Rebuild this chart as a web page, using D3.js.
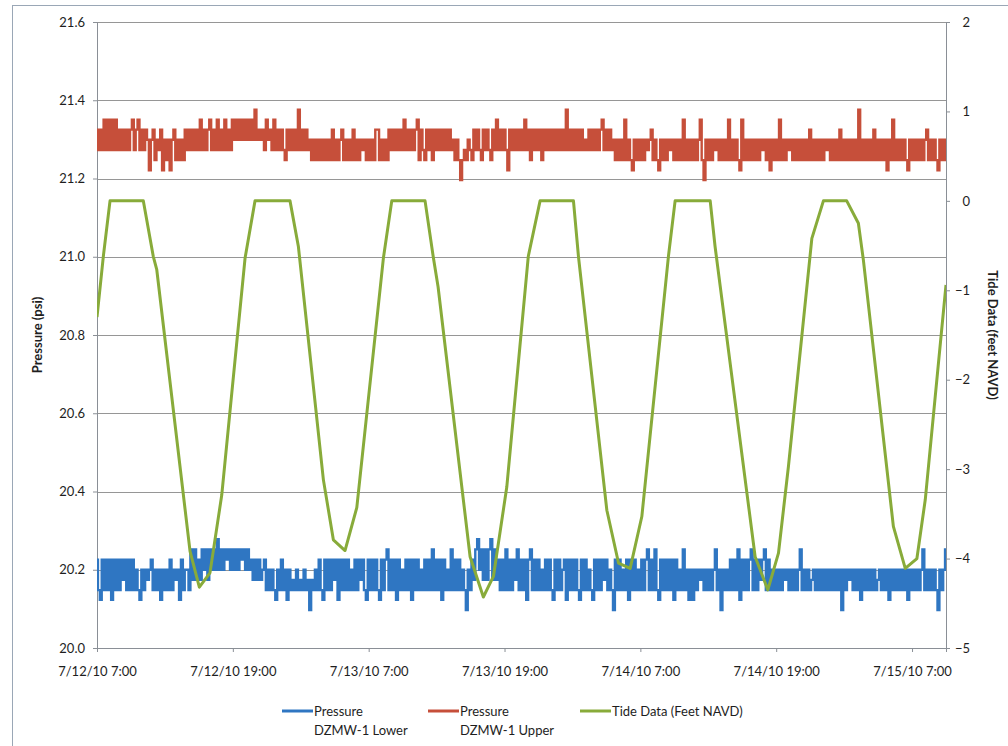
<!DOCTYPE html>
<html>
<head>
<meta charset="utf-8">
<script src="https://cdn.jsdelivr.net/npm/d3@7"></script>
<style>
  body { margin: 0; background: #fff; }
  text { font-family: Lato, "Open Sans", sans-serif; fill: #1e1e1e; }
</style>
</head>
<body>
<div id="pressure-tide-chart"></div>
<script>
// ========== Data ==========
const startTime = new Date(2010, 6, 12, 7, 0);
const endTime = new Date(2010, 6, 15, 10, 0);
const sampleMinutes = 10; // logger interval for both pressure series

const xTickLabels = [
  "2010-07-12 07:00", "2010-07-12 19:00", "2010-07-13 07:00", "2010-07-13 19:00",
  "2010-07-14 07:00", "2010-07-14 19:00", "2010-07-15 07:00",
];
const leftTicks = [20.0, 20.2, 20.4, 20.6, 20.8, 21.0, 21.2, 21.4, 21.6];
const rightTicks = [-5, -4, -3, -2, -1, 0, 1, 2];

// pressure readings are quantized; codes below index these levels (psi)
const lowerLevelPsi = [20.097, 20.123, 20.148, 20.174, 20.2, 20.226, 20.252, 20.278];
const upperLevelPsi = [21.196, 21.221, 21.247, 21.273, 21.299, 21.325, 21.35, 21.376];

// DZMW-1 Lower, one row = 2 hours of 10-minute readings
const lowerCodes = [
  5,2,1,5,2,5,2,5,1,5,2,5, 2,5,3,5,2,5,2,5,2,4,2,1, 4,2,4,3,4,5,2,4,2,4,1,4,
  2,4,2,5,2,4,3,4,1,5,2,4, 4,2,6,3,6,3,5,3,6,4,6,3, 6,4,6,4,7,4,6,4,6,5,6,4,
  6,4,6,4,6,5,6,4,6,4,5,3, 5,3,5,3,4,5,2,4,2,4,2,1, 4,2,5,2,4,1,4,2,3,2,4,2,
  3,2,4,2,3,0,3,2,4,2,5,2, 1,5,2,5,2,5,3,5,1,5,2,5, 2,5,2,4,2,5,2,5,3,5,2,1,
  5,2,5,2,5,2,1,5,2,5,6,2, 5,2,5,1,5,2,4,2,5,2,5,1, 5,2,5,2,4,2,5,2,5,2,6,2,
  5,2,5,1,5,2,4,2,6,2,5,2, 5,2,4,2,0,4,2,5,3,6,7,4, 6,3,6,3,6,7,3,6,3,5,2,5,
  2,6,2,5,2,5,3,6,2,5,2,5, 1,5,6,2,5,2,5,2,4,2,5,2, 5,2,1,5,2,5,2,4,5,1,5,2,
  5,2,5,2,1,5,2,5,2,4,2,1, 5,2,5,2,5,3,5,2,4,2,0,5, 2,5,2,4,2,5,1,5,2,5,2,4,
  2,5,2,5,6,2,5,2,6,2,1,5, 2,5,2,5,2,5,1,5,2,4,2,6, 2,4,1,4,1,4,2,4,3,4,2,4,
  2,4,2,4,6,2,4,0,4,2,4,2, 5,2,5,2,6,1,5,2,5,2,5,6, 2,5,2,5,3,5,6,2,5,2,4,2,
  4,2,4,2,4,3,4,2,4,2,4,2, 4,6,2,4,2,4,2,3,4,2,4,2, 4,2,4,2,4,2,4,2,4,2,4,0,
  4,2,4,3,4,2,4,2,4,1,4,2, 4,2,4,2,4,2,3,4,2,4,2,4, 1,4,2,4,2,4,2,4,2,4,1,4,
  2,4,2,4,2,4,6,2,4,2,4,2, 4,2,0,4,2,4,6,
];

// DZMW-1 Upper, same layout
const upperCodes = [
  5,3,5,3,6,3,6,3,6,3,6,3, 5,3,5,3,5,3,5,6,3,5,6,3, 5,3,5,4,1,4,5,2,4,3,5,1,
  4,2,4,1,4,5,2,4,2,4,2,5, 3,5,3,5,3,5,3,6,3,5,3,5, 6,3,5,3,6,3,5,3,6,3,5,3,
  6,4,6,4,6,4,6,4,6,4,6,4, 7,4,5,4,5,3,6,4,5,3,6,3, 5,3,5,3,2,5,3,5,3,5,3,7,
  3,5,3,5,3,4,2,4,2,4,2,4, 2,4,2,4,2,5,2,4,2,4,5,2, 4,2,4,2,5,2,4,2,4,3,4,2,
  4,2,4,2,5,5,2,4,2,4,2,5, 3,5,3,5,3,5,3,6,3,5,3,5, 3,5,6,2,5,3,2,5,3,5,2,5,
  3,5,3,5,3,5,3,5,3,4,2,4, 2,0,2,3,2,4,3,2,5,3,5,3, 2,5,3,5,3,2,5,3,6,3,5,3,
  5,3,1,5,3,5,3,5,3,5,3,6, 3,5,2,5,3,5,3,5,2,5,3,5, 3,5,3,5,3,5,3,5,3,7,3,5,
  3,5,3,5,3,5,3,4,3,5,3,5, 3,5,3,5,6,3,5,3,5,3,4,2, 4,2,4,2,6,2,4,2,1,4,2,4,
  2,4,2,4,3,4,5,2,4,2,1,4, 2,4,2,4,3,4,2,4,2,4,2,6, 2,4,2,4,2,4,2,4,6,2,0,4,
  2,4,2,4,3,4,2,4,2,4,2,6, 2,4,2,4,2,1,6,2,4,2,4,2, 4,2,4,2,4,3,4,2,4,1,4,2,
  4,2,6,2,4,2,4,3,4,2,4,2, 4,2,4,2,4,2,5,2,4,2,4,2, 4,2,4,3,4,2,4,2,4,2,5,2,
  4,2,4,2,4,2,4,2,7,2,4,2, 4,2,4,2,5,2,4,2,4,2,4,1, 4,2,6,2,4,2,4,2,4,2,1,4,
  2,4,2,4,2,4,2,4,5,2,4,2, 4,2,1,4,2,4,2,
];

// Tide (feet NAVD), vertices; hours after 7/12/10 7:00
const tideHours = [
  0, 0.56, 1.15, 4.09, 4.97, 5.28, 8.22, 9.04, 9.98, 11.02,
  13.08, 13.96, 17.05, 17.79, 20.0, 20.88, 21.91, 22.95, 25.3, 26.04,
  28.98, 29.72, 30.13, 32.96, 34.13, 35.02, 36.2, 38.1, 39.14, 42.09,
  42.53, 45.04, 46.07, 47.1, 48.13, 50.48, 51.07, 54.17, 54.6, 58.14,
  59.26, 60.2, 61.08, 63.15, 64.17, 66.23, 67.26, 67.7, 70.35, 71.4,
  72.43, 73.17, 75,
];
const tideFeet = [
  -1.3, -0.62, 0, 0, -0.62, -0.77, -3.92, -4.32, -4.16, -3.29,
  -0.64, 0, 0, -0.51, -3.12, -3.79, -3.91, -3.43, -0.64, 0,
  0, -0.64, -0.96, -3.98, -4.43, -4.2, -3.2, -0.62, 0, 0,
  -0.62, -3.46, -4.05, -4.11, -3.53, -0.62, 0, 0, -0.51, -3.98,
  -4.35, -3.94, -2.97, -0.42, 0, 0, -0.25, -0.66, -3.64, -4.11,
  -4.0, -3.34, -0.94,
];

const seriesColors = { lower: "#2f76c2", upper: "#c64f3a", tide: "#88ab3a" };

// ========== Entry Point ==========
document.addEventListener("DOMContentLoaded", () => {
  renderChart();
});

// ========== Structure Data ==========
function buildPressure(codes, levels) {
  return codes.map((c, i) => ({
    time: d3.timeMinute.offset(startTime, i * sampleMinutes),
    value: levels[c],
  }));
}

function buildTide() {
  return tideHours.map((h, i) => ({
    time: new Date(+startTime + h * 3600 * 1000),
    value: tideFeet[i],
  }));
}

// ========== Render ==========
function renderChart() {
  const width = 1008;
  const height = 746;
  const margin = { top: 22, right: 62, bottom: 98, left: 97 };

  const lower = buildPressure(lowerCodes, lowerLevelPsi);
  const upper = buildPressure(upperCodes, upperLevelPsi);
  const tide = buildTide();

  const svg = d3
    .select("#pressure-tide-chart")
    .append("svg")
    .attr("width", width)
    .attr("height", height);

  // outer chart frame
  svg
    .append("rect")
    .attr("x", 12.5)
    .attr("y", 5.5)
    .attr("width", 1000)
    .attr("height", 745)
    .attr("fill", "none")
    .attr("stroke", "#9aa7b6");

  const parseTick = d3.timeParse("%Y-%m-%d %H:%M");
  const xTicks = xTickLabels.map(parseTick);

  const x = d3
    .scaleTime()
    .domain([startTime, endTime])
    .range([margin.left, width - margin.right]);

  const yLeft = d3
    .scaleLinear()
    .domain([20.0, 21.6])
    .range([height - margin.bottom, margin.top]);

  const yRight = d3
    .scaleLinear()
    .domain([-5, 2])
    .range([height - margin.bottom, margin.top]);

  // Gridlines (follow the psi axis)
  svg
    .append("g")
    .selectAll("line")
    .data(leftTicks.slice(1))
    .enter()
    .append("line")
    .attr("x1", margin.left)
    .attr("x2", width - margin.right)
    .attr("y1", (d) => Math.round(yLeft(d)) + 0.5)
    .attr("y2", (d) => Math.round(yLeft(d)) + 0.5)
    .attr("stroke", "#969696")
    .attr("stroke-width", 1);

  // Axes
  const axisLeft = svg
    .append("g")
    .attr("transform", `translate(${margin.left},0)`)
    .call(
      d3.axisLeft(yLeft).tickValues(leftTicks).tickFormat(d3.format(".1f")).tickSize(4).tickPadding(8)
    );

  const axisRight = svg
    .append("g")
    .attr("transform", `translate(${width - margin.right},0)`)
    .call(d3.axisRight(yRight).tickValues(rightTicks).tickFormat(d3.format("d")).tickSize(4));
  axisRight.selectAll("text").attr("x", 24).attr("text-anchor", "end");

  const axisBottom = svg
    .append("g")
    .attr("transform", `translate(0,${height - margin.bottom})`)
    .call(
      d3.axisBottom(x).tickValues(xTicks).tickFormat(d3.timeFormat("%-m/%-d/%y %-H:%M")).tickSize(4)
    );
  axisBottom.selectAll("text").attr("y", 19);

  [axisLeft, axisRight, axisBottom].forEach((g) => {
    g.selectAll("path, line").attr("stroke", "#8a8f96");
    g.selectAll("text").attr("font-size", 13).attr("fill", "#111").attr("font-family", "Lato, sans-serif");
  });

  // Axis titles
  svg
    .append("text")
    .attr("transform", `translate(37,${(margin.top + height - margin.bottom) / 2}) rotate(-90)`)
    .attr("text-anchor", "middle")
    .attr("dy", "0.35em")
    .attr("font-size", 13)
    .attr("font-weight", "bold")
    .text("Pressure (psi)");

  svg
    .append("text")
    .attr("transform", `translate(993,${(margin.top + height - margin.bottom) / 2}) rotate(90)`)
    .attr("text-anchor", "middle")
    .attr("dy", "0.35em")
    .attr("font-size", 13)
    .attr("font-weight", "bold")
    .text("Tide Data (feet NAVD)");

  // Clip to the plot area
  svg
    .append("clipPath")
    .attr("id", "plot-clip")
    .append("rect")
    .attr("x", margin.left)
    .attr("y", margin.top)
    .attr("width", width - margin.left - margin.right)
    .attr("height", height - margin.top - margin.bottom);

  const plot = svg.append("g").attr("clip-path", "url(#plot-clip)");

  // stepped so the fast-toggling readings fill a band like the logger plot
  const psiLine = d3
    .line()
    .curve(d3.curveStep)
    .x((d) => x(d.time))
    .y((d) => yLeft(d.value));

  const tideLine = d3
    .line()
    .x((d) => x(d.time))
    .y((d) => yRight(d.value));

  plot
    .append("path")
    .datum(lower)
    .attr("fill", "none")
    .attr("stroke", seriesColors.lower)
    .attr("stroke-width", 2.4)
    .attr("d", psiLine);

  plot
    .append("path")
    .datum(upper)
    .attr("fill", "none")
    .attr("stroke", seriesColors.upper)
    .attr("stroke-width", 2.4)
    .attr("d", psiLine);

  plot
    .append("path")
    .datum(tide)
    .attr("fill", "none")
    .attr("stroke", seriesColors.tide)
    .attr("stroke-width", 3)
    .attr("stroke-linejoin", "round")
    .attr("d", tideLine);

  // Legend
  const legendItems = [
    { key: "lower", x: 282, lines: ["Pressure", "DZMW-1 Lower"] },
    { key: "upper", x: 428, lines: ["Pressure", "DZMW-1 Upper"] },
    { key: "tide", x: 580, lines: ["Tide Data (Feet NAVD)"] },
  ];

  const legend = svg
    .append("g")
    .selectAll("g")
    .data(legendItems)
    .enter()
    .append("g")
    .attr("transform", (d) => `translate(${d.x},711)`);

  legend
    .append("line")
    .attr("x1", 0)
    .attr("x2", 31)
    .attr("stroke", (d) => seriesColors[d.key])
    .attr("stroke-width", 3);

  legend
    .selectAll("text")
    .data((d) => d.lines)
    .enter()
    .append("text")
    .attr("x", 32)
    .attr("y", (d, i) => i * 19)
    .attr("dy", "0.35em")
    .attr("font-size", 13)
    .text((d) => d);
}
</script>
</body>
</html>
